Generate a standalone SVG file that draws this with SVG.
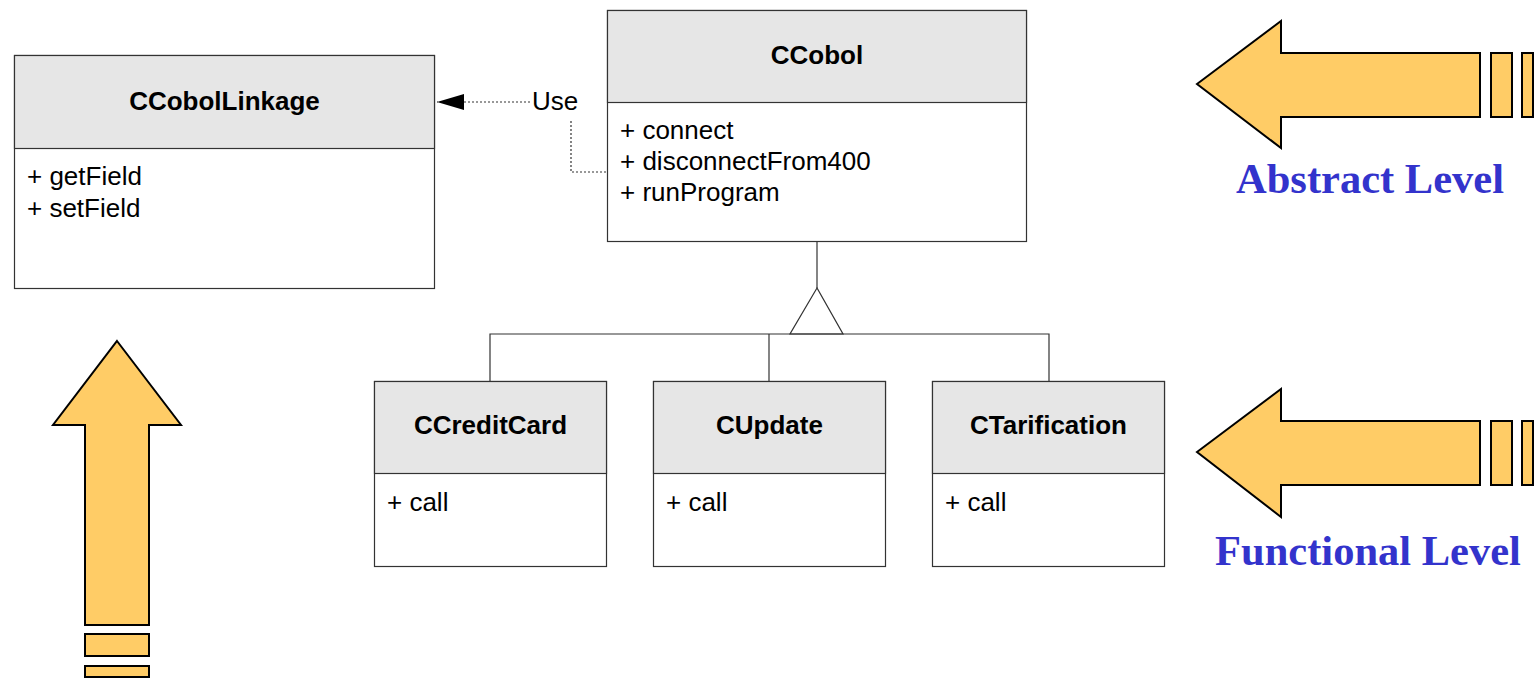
<svg xmlns="http://www.w3.org/2000/svg" width="1537" height="678" viewBox="0 0 1537 678">
<defs>
<style>
.box{fill:#fff;stroke:#333;stroke-width:1.2}
.hdr{fill:#e6e6e6;stroke:#333;stroke-width:1.2}
.title{font-family:"Liberation Sans",Arial,sans-serif;font-weight:bold;font-size:26px;fill:#000;text-anchor:middle}
.mem{font-family:"Liberation Sans",Arial,sans-serif;font-size:26px;fill:#000}
.line{fill:none;stroke:#333;stroke-width:1.2}
.dot{fill:none;stroke:#333;stroke-width:1.2;stroke-dasharray:2 2}
.big{fill:#ffcc66;stroke:#000;stroke-width:2;stroke-linejoin:miter}
.lvl{font-family:"Liberation Serif","Times New Roman",serif;font-weight:bold;font-size:42.5px;fill:#3333cc;text-anchor:middle}
</style>
<marker id="tri" markerWidth="28" markerHeight="18" refX="27" refY="8" orient="auto" markerUnits="userSpaceOnUse">
<path d="M0,0 L27,8 L0,16 Z" fill="#000"/>
</marker>
</defs>
<rect width="1537" height="678" fill="#fff"/>

<g id="connectors">
<line class="dot" x1="530" y1="102" x2="437" y2="102" marker-end="url(#tri)"/>
<polyline class="dot" points="571,121 571,172 607,172"/>
<line class="line" x1="817" y1="242" x2="817" y2="288"/>
<path class="line" d="M817,288 L790,334 L843,334 Z" fill="#fff"/>
<polyline class="line" points="490,381 490,334 1049,334 1049,381"/>
<line class="line" x1="769" y1="334" x2="769" y2="381"/>
<text class="mem" x="532" y="110">Use</text>
</g>

<g id="CCobolLinkage">
<rect class="box" x="14.5" y="55.5" width="420" height="233"/>
<rect class="hdr" x="14.5" y="55.5" width="420" height="93"/>
<text class="title" x="224.5" y="110">CCobolLinkage</text>
<text class="mem" x="27" y="185">+ getField</text>
<text class="mem" x="27" y="217">+ setField</text>
</g>

<g id="CCobol">
<rect class="box" x="607.5" y="10.5" width="419" height="231"/>
<rect class="hdr" x="607.5" y="10.5" width="419" height="92"/>
<text class="title" x="817" y="64">CCobol</text>
<text class="mem" x="620" y="139">+ connect</text>
<text class="mem" x="620" y="170">+ disconnectFrom400</text>
<text class="mem" x="620" y="201">+ runProgram</text>
</g>

<g id="CCreditCard">
<rect class="box" x="374.5" y="381.5" width="232" height="185"/>
<rect class="hdr" x="374.5" y="381.5" width="232" height="92"/>
<text class="title" x="490.5" y="434">CCreditCard</text>
<text class="mem" x="387" y="511">+ call</text>
</g>

<g id="CUpdate">
<rect class="box" x="653.5" y="381.5" width="232" height="185"/>
<rect class="hdr" x="653.5" y="381.5" width="232" height="92"/>
<text class="title" x="769.5" y="434">CUpdate</text>
<text class="mem" x="666" y="511">+ call</text>
</g>

<g id="CTarification">
<rect class="box" x="932.5" y="381.5" width="232" height="185"/>
<rect class="hdr" x="932.5" y="381.5" width="232" height="92"/>
<text class="title" x="1048.5" y="434">CTarification</text>
<text class="mem" x="945" y="511">+ call</text>
</g>

<g id="abstract-level">
<path class="big" d="M1197,84 L1281,21 L1281,53 L1480,53 L1480,117 L1281,117 L1281,148 Z"/>
<rect class="big" x="1491" y="53" width="21" height="64"/>
<rect class="big" x="1522" y="53" width="11" height="64"/>
<text class="lvl" x="1370" y="193">Abstract Level</text>
</g>

<g id="functional-level">
<path class="big" d="M1197,452 L1281,389 L1281,421 L1480,421 L1480,485 L1281,485 L1281,517 Z"/>
<rect class="big" x="1491" y="421" width="21" height="64"/>
<rect class="big" x="1522" y="421" width="11" height="64"/>
<text class="lvl" x="1368" y="565">Functional Level</text>
</g>

<g id="up-arrow">
<path class="big" d="M117,341 L181,425 L149,425 L149,625 L85,625 L85,425 L53,425 Z"/>
<rect class="big" x="85" y="634" width="64" height="22"/>
<rect class="big" x="85" y="666" width="64" height="11"/>
</g>
</svg>
